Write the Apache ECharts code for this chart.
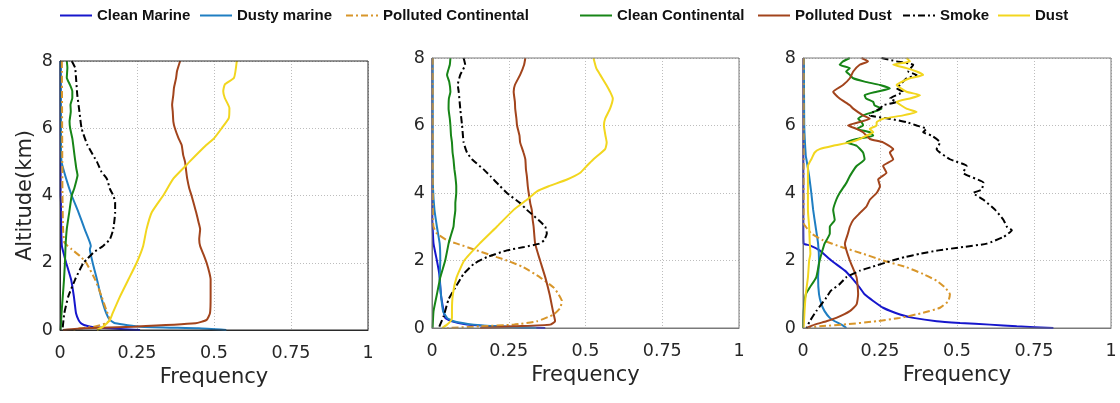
<!DOCTYPE html>
<html>
<head>
<meta charset="utf-8">
<script src="https://cdn.jsdelivr.net/npm/echarts@6/dist/echarts.min.js"></script>
<style>
  html, body { margin: 0; padding: 0; background: #ffffff; }
  #chart { width: 1120px; height: 403px; }
</style>
</head>
<body>
<div id="chart"></div>
<script>
// Aerosol subtype vertical frequency profiles, three regions.
// Each profile: [altitude (km), frequency] pairs from top to surface.

const seriesNames = ['Clean Marine', 'Dusty marine', 'Polluted Continental', 'Clean Continental', 'Polluted Dust', 'Smoke', 'Dust'];
const xTicks = [0, 0.25, 0.5, 0.75, 1];
const yTicks = [0, 2, 4, 6, 8];

// ---- Panel 1 ----
const p1CleanMarine = [[8,0.002],[6,0.002],[4,0.002],[3.8,0.003],[3,0.004],[2.5,0.006],[2.2,0.014],[2,0.02],[1.5,0.036],[1,0.045],[0.7,0.049],[0.5,0.052],[0.3,0.06],[0.2,0.068],[0.15,0.078],[0.1,0.1],[0.05,0.16],[0,0.26]];
const p1DustyMarine = [[8,0.002],[5.5,0.003],[5,0.005],[4.5,0.02],[4,0.038],[3.5,0.06],[3,0.08],[2.5,0.1],[2.4,0.097],[2,0.106],[1.5,0.12],[1,0.133],[0.5,0.15],[0.3,0.162],[0.2,0.18],[0.1,0.26],[0.05,0.45],[0,0.54]];
const p1PollutedCont = [[8,0.006],[6,0.007],[4,0.008],[3,0.01],[2.6,0.014],[2.5,0.025],[2.4,0.038],[2.2,0.065],[2,0.085],[1.5,0.114],[1,0.135],[0.6,0.15],[0.3,0.162],[0.2,0.15],[0.1,0.11],[0.05,0.065],[0,0.04]];
const p1CleanCont = [[8,0.022],[7.8,0.024],[7.5,0.022],[7.3,0.032],[7.1,0.04],[6.9,0.04],[6.7,0.034],[6.5,0.035],[6.2,0.031],[6,0.033],[5.7,0.04],[5.5,0.043],[5.2,0.047],[5,0.05],[4.8,0.053],[4.6,0.057],[4.4,0.052],[4.2,0.046],[4,0.038],[3.5,0.03],[3,0.022],[2.5,0.018],[2,0.016],[1.5,0.013],[1,0.009],[0.5,0.005],[0,0.002]];
const p1PollutedDust = [[8,0.39],[7.7,0.38],[7.5,0.377],[7.2,0.37],[7,0.368],[6.7,0.364],[6.5,0.366],[6.2,0.368],[6,0.373],[5.7,0.385],[5.5,0.395],[5.2,0.4],[5,0.406],[4.7,0.41],[4.5,0.413],[4.2,0.42],[4,0.427],[3.7,0.436],[3.5,0.442],[3.2,0.45],[3,0.455],[2.7,0.452],[2.5,0.455],[2.2,0.468],[2,0.476],[1.7,0.485],[1.5,0.489],[1,0.489],[0.5,0.487],[0.3,0.476],[0.2,0.44],[0.1,0.24],[0.05,0.08],[0,0.01]];
const p1Smoke = [[8,0.038],[7.8,0.049],[7.5,0.052],[7,0.056],[6.5,0.063],[6,0.07],[5.5,0.089],[5,0.12],[4.7,0.135],[4.5,0.152],[4.2,0.162],[4,0.173],[3.8,0.179],[3.5,0.179],[3,0.173],[2.7,0.162],[2.5,0.14],[2.3,0.108],[2.1,0.087],[2,0.076],[1.5,0.049],[1,0.027],[0.5,0.014],[0,0.008]];
const p1Dust = [[8,0.574],[7.5,0.565],[7.3,0.535],[7.1,0.53],[6.9,0.535],[6.6,0.55],[6.3,0.548],[6,0.525],[5.7,0.5],[5.5,0.475],[5,0.42],[4.9,0.41],[4.5,0.368],[4,0.335],[3.5,0.298],[3,0.281],[2.5,0.27],[2,0.249],[1.5,0.222],[1,0.195],[0.5,0.171],[0.3,0.162],[0.1,0.14],[0,0.12]];

// ---- Panel 2 ----
const p2CleanMarine = [[8,0.001],[5,0.001],[3.2,0.001],[3,0.002],[2.5,0.005],[2,0.016],[1.7,0.022],[1.5,0.025],[1,0.029],[0.5,0.038],[0.3,0.043],[0.2,0.065],[0.1,0.114],[0.05,0.2],[0,0.369]];
const p2DustyMarine = [[8,0.002],[5,0.002],[4.2,0.003],[3.5,0.008],[3,0.016],[2.5,0.025],[2,0.027],[1.5,0.025],[1,0.029],[0.5,0.036],[0.3,0.049],[0.2,0.07],[0.1,0.136],[0.05,0.22],[0,0.34]];
const p2PollutedCont = [[8,0.002],[5,0.002],[3.2,0.003],[3,0.005],[2.8,0.016],[2.6,0.049],[2.5,0.081],[2.3,0.146],[2.1,0.211],[2,0.244],[1.8,0.298],[1.5,0.352],[1.2,0.396],[1,0.412],[0.8,0.423],[0.6,0.418],[0.4,0.396],[0.2,0.342],[0.1,0.266],[0.05,0.157],[0,0.05]];
const p2CleanCont = [[8,0.06],[7.8,0.058],[7.5,0.049],[7.3,0.056],[7,0.06],[6.8,0.055],[6.5,0.054],[6.2,0.058],[6,0.06],[5.7,0.062],[5.5,0.065],[5.2,0.067],[5,0.07],[4.7,0.073],[4.5,0.076],[4.2,0.079],[4,0.079],[3.7,0.076],[3.5,0.076],[3.2,0.072],[3,0.07],[2.7,0.06],[2.5,0.054],[2,0.043],[1.5,0.027],[1,0.016],[0.5,0.005],[0,0.002]];
const p2PollutedDust = [[8,0.304],[7.8,0.3],[7.5,0.287],[7.2,0.27],[7,0.266],[6.7,0.27],[6.5,0.271],[6.2,0.275],[6,0.277],[5.7,0.285],[5.5,0.287],[5.2,0.298],[5,0.304],[4.7,0.306],[4.5,0.309],[4.2,0.312],[4,0.315],[3.7,0.32],[3.5,0.325],[3.2,0.328],[3,0.331],[2.5,0.336],[2,0.352],[1.5,0.369],[1,0.383],[0.5,0.394],[0.2,0.401],[0.1,0.385],[0.05,0.266],[0,0.157]];
const p2Smoke = [[8,0.103],[7.8,0.108],[7.5,0.092],[7.2,0.084],[7,0.087],[6.5,0.092],[6,0.098],[5.5,0.103],[5.2,0.114],[5,0.13],[4.7,0.168],[4.5,0.19],[4.2,0.222],[4,0.244],[3.7,0.287],[3.5,0.309],[3.2,0.347],[3,0.369],[2.8,0.374],[2.6,0.365],[2.5,0.35],[2.4,0.3],[2.3,0.244],[2.1,0.179],[1.9,0.136],[1.6,0.103],[1.2,0.076],[0.85,0.054],[0.35,0.038],[0,0.022]];
const p2Dust = [[8,0.526],[7.7,0.535],[7.5,0.548],[7.2,0.568],[7,0.58],[6.8,0.589],[6.5,0.58],[6.2,0.564],[6,0.56],[5.7,0.565],[5.5,0.569],[5.3,0.564],[5,0.526],[4.8,0.504],[4.6,0.483],[4.4,0.44],[4.2,0.38],[4.05,0.342],[3.8,0.309],[3.5,0.266],[3,0.211],[2.5,0.155],[2,0.105],[1.5,0.08],[1,0.068],[0.5,0.065],[0.3,0.065],[0.2,0.06],[0.1,0.049],[0,0.033]];

// ---- Panel 3 ----
const p3CleanMarine = [[8,0.001],[5,0.001],[3.05,0.001],[2.5,0.002],[2.45,0.022],[2.3,0.054],[2,0.092],[1.7,0.136],[1.5,0.157],[1.2,0.184],[1,0.2],[0.8,0.228],[0.6,0.26],[0.4,0.315],[0.3,0.358],[0.2,0.434],[0.15,0.51],[0.1,0.607],[0.05,0.694],[0,0.813]];
const p3DustyMarine = [[8,0.003],[6,0.004],[5.1,0.009],[5,0.011],[4.5,0.02],[4,0.027],[3.5,0.033],[3,0.041],[2.5,0.049],[2,0.052],[1.5,0.049],[1,0.052],[0.7,0.06],[0.5,0.07],[0.3,0.087],[0.2,0.103],[0.1,0.125],[0,0.141]];
const p3PollutedCont = [[8,0.002],[5,0.002],[3.1,0.002],[3,0.009],[2.8,0.027],[2.6,0.065],[2.4,0.125],[2.2,0.195],[2,0.26],[1.8,0.336],[1.6,0.39],[1.4,0.434],[1.2,0.461],[1,0.477],[0.8,0.472],[0.6,0.445],[0.45,0.39],[0.3,0.315],[0.2,0.239],[0.1,0.13],[0.05,0.054],[0,0.011]];
const p3CleanCont = [[8,0.152],[7.9,0.13],[7.8,0.119],[7.7,0.152],[7.6,0.14],[7.5,0.152],[7.4,0.163],[7.3,0.2],[7.2,0.25],[7.1,0.282],[7,0.239],[6.9,0.2],[6.8,0.205],[6.7,0.228],[6.6,0.232],[6.5,0.255],[6.4,0.228],[6.3,0.195],[6.2,0.179],[6.1,0.19],[6,0.195],[5.9,0.174],[5.8,0.217],[5.7,0.228],[5.6,0.174],[5.5,0.141],[5.4,0.174],[5.2,0.195],[5,0.2],[4.8,0.174],[4.5,0.152],[4.3,0.141],[4,0.119],[3.8,0.108],[3.5,0.098],[3.2,0.103],[3,0.087],[2.8,0.087],[2.5,0.07],[2.2,0.06],[2,0.054],[1.5,0.043],[1.2,0.022],[1,0.009],[0.5,0.002],[0,0]];
const p3PollutedDust = [[8,0.19],[7.9,0.211],[7.8,0.184],[7.6,0.163],[7.4,0.152],[7.2,0.13],[7,0.098],[6.8,0.119],[6.6,0.152],[6.5,0.163],[6.3,0.195],[6.2,0.217],[6,0.146],[5.9,0.174],[5.8,0.195],[5.6,0.217],[5.5,0.26],[5.3,0.293],[5.2,0.282],[5,0.293],[4.8,0.26],[4.6,0.271],[4.4,0.244],[4.2,0.25],[4,0.239],[3.8,0.217],[3.6,0.206],[3.4,0.184],[3.2,0.163],[3,0.152],[2.8,0.146],[2.5,0.136],[2,0.152],[1.5,0.174],[1,0.179],[0.7,0.174],[0.5,0.152],[0.3,0.108],[0.2,0.076],[0.1,0.038],[0,0.011]];
const p3Smoke = [[8,0.255],[7.9,0.304],[7.8,0.358],[7.6,0.342],[7.5,0.369],[7.4,0.336],[7.2,0.315],[7.1,0.304],[7,0.325],[6.8,0.282],[6.7,0.304],[6.6,0.26],[6.5,0.25],[6.4,0.228],[6.3,0.217],[6.2,0.282],[6.1,0.336],[6,0.369],[5.9,0.401],[5.8,0.39],[5.7,0.418],[5.5,0.445],[5.3,0.434],[5,0.477],[4.8,0.531],[4.6,0.52],[4.3,0.586],[4.1,0.58],[4,0.553],[3.8,0.586],[3.5,0.624],[3.2,0.651],[3,0.662],[2.9,0.678],[2.7,0.651],[2.5,0.597],[2.4,0.52],[2.3,0.44],[2.2,0.38],[2.1,0.33],[2,0.29],[1.8,0.22],[1.7,0.185],[1.5,0.14],[1.3,0.119],[1.1,0.09],[0.9,0.076],[0.5,0.043],[0.2,0.022],[0,0.011]];
const p3Dust = [[8,0.336],[7.9,0.347],[7.8,0.293],[7.7,0.336],[7.6,0.369],[7.5,0.39],[7.4,0.347],[7.2,0.304],[7,0.336],[6.9,0.38],[6.8,0.347],[6.7,0.304],[6.5,0.336],[6.4,0.369],[6.3,0.325],[6.2,0.26],[6.1,0.239],[6,0.239],[5.9,0.217],[5.8,0.228],[5.7,0.206],[5.6,0.184],[5.5,0.152],[5.4,0.098],[5.3,0.054],[5.2,0.038],[5,0.027],[4.8,0.016],[4.5,0.016],[4,0.016],[3.5,0.016],[3,0.02],[2.5,0.022],[2.2,0.024],[2,0.02],[1.5,0.016],[1,0.009],[0.5,0.005],[0,0.002]];

const panels = [
  [p1CleanMarine, p1DustyMarine, p1PollutedCont, p1CleanCont, p1PollutedDust, p1Smoke, p1Dust],
  [p2CleanMarine, p2DustyMarine, p2PollutedCont, p2CleanCont, p2PollutedDust, p2Smoke, p2Dust],
  [p3CleanMarine, p3DustyMarine, p3PollutedCont, p3CleanCont, p3PollutedDust, p3Smoke, p3Dust]
];

// ---- Styling ----
const dashDot = [7, 3, 2, 3];
const solidIcon = 'path://M0,0h32v2h-32z';
const dashDotIcon = 'path://M0,0h7v2h-7zM10,0h2v2h-2zM15,0h7v2h-7zM25,0h2v2h-2zM30,0h2v2h-2z';
const lineStyles = [
  { color: '#1616CC', type: 'solid', icon: solidIcon },
  { color: '#1F7EC2', type: 'solid', icon: solidIcon },
  { color: '#D8962A', type: dashDot, icon: dashDotIcon },
  { color: '#178517', type: 'solid', icon: solidIcon },
  { color: '#A2441C', type: 'solid', icon: solidIcon },
  { color: '#000000', type: dashDot, icon: dashDotIcon },
  { color: '#F2D61E', type: 'solid', icon: solidIcon }
];
const gridBoxes = [
  { left: 60,  top: 61, width: 308, height: 269, border: '#2b2b2b' },
  { left: 432, top: 58, width: 307, height: 270, border: '#7a7a7a' },
  { left: 803, top: 58, width: 308, height: 270, border: '#7a7a7a' }
];
const legendLefts = [60, 200, 346, 580, 758, 903, 998];
const textColor = '#262626';
const tickFont = 'DejaVu Sans';

const chart = echarts.init(document.getElementById('chart'), null, { renderer: 'canvas' });

const grid = gridBoxes.map(g => ({
  left: g.left, top: g.top, width: g.width, height: g.height,
  show: true, borderColor: g.border, borderWidth: 1, backgroundColor: 'transparent', z: 20
}));

const xAxis = gridBoxes.map((g, i) => ({
  gridIndex: i, type: 'value', z: 0,
  min: xTicks[0], max: xTicks[xTicks.length - 1], interval: xTicks[1] - xTicks[0],
  name: 'Frequency', nameLocation: 'middle', nameGap: 36,
  nameTextStyle: { fontSize: 21, color: textColor, fontFamily: tickFont },
  axisLine: { show: true, lineStyle: { color: g.border, width: 1 } },
  axisTick: { show: false },
  axisLabel: { fontSize: 17.5, color: textColor, fontFamily: tickFont, margin: 14 },
  splitLine: { show: true, lineStyle: { type: [1, 2], color: '#bdbdbd', width: 1 } }
}));

const yAxis = gridBoxes.map((g, i) => ({
  gridIndex: i, type: 'value', z: 0,
  min: yTicks[0], max: yTicks[yTicks.length - 1], interval: yTicks[1] - yTicks[0],
  name: i === 0 ? 'Altitude(km)' : '', nameLocation: 'middle', nameGap: 24,
  nameTextStyle: { fontSize: 21, color: textColor, fontFamily: tickFont },
  axisLine: { show: true, lineStyle: { color: g.border, width: 1 } },
  axisTick: { show: false },
  axisLabel: { fontSize: 17.5, color: textColor, fontFamily: tickFont, margin: 7 },
  splitLine: { show: true, lineStyle: { type: [1, 2], color: '#bdbdbd', width: 1 } }
}));

const series = [];
panels.forEach((profiles, p) => {
  profiles.forEach((profile, k) => {
    const st = lineStyles[k];
    series.push({
      name: seriesNames[k], type: 'line',
      xAxisIndex: p, yAxisIndex: p,
      data: profile.map(([alt, freq]) => [freq, alt]),
      symbol: 'none', showSymbol: false, smooth: 0.15,
      lineStyle: { color: st.color, width: 2, type: st.type },
      itemStyle: { color: st.color },
      emphasis: { disabled: true },
      z: 2 + k
    });
  });
});

const legend = seriesNames.map((name, k) => ({
  data: [{ name, icon: lineStyles[k].icon }],
  left: legendLefts[k], top: 8,
  itemWidth: 32, itemHeight: 2, padding: 0,
  itemStyle: { color: lineStyles[k].color, borderWidth: 0 },
  textStyle: { fontSize: 15, fontWeight: 'bold', color: '#111111', fontFamily: 'Liberation Sans' },
  selectedMode: false
}));

chart.setOption({
  animation: false,
  backgroundColor: '#ffffff',
  legend, grid, xAxis, yAxis, series
});
</script>
</body>
</html>
